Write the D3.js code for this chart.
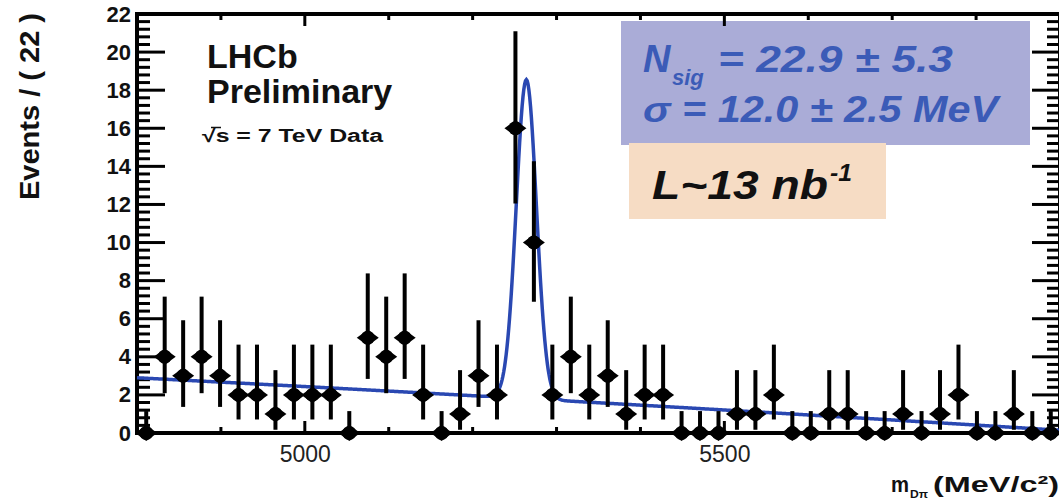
<!DOCTYPE html>
<html>
<head>
<meta charset="utf-8">
<script src="https://cdn.jsdelivr.net/npm/d3@7"></script>
<style>
  html, body { margin: 0; padding: 0; background: #fff; }
  svg { display: block; font-family: "Liberation Sans", Arial, sans-serif; }
</style>
</head>
<body>
<svg id="chart" width="1059" height="503"></svg>
<script>
// D -> pi invariant mass, 22 MeV bins from 4800 to 5900 MeV
const binCenters = [
  4811, 4833, 4855, 4877, 4899, 4921, 4943, 4965, 4987, 5009,
  5031, 5053, 5075, 5097, 5119, 5141, 5163, 5185, 5207, 5229,
  5251, 5273, 5295, 5317, 5339, 5361, 5383, 5405, 5427, 5449,
  5471, 5493, 5515, 5537, 5559, 5581, 5603, 5625, 5647, 5669,
  5691, 5713, 5735, 5757, 5779, 5801, 5823, 5845, 5867, 5889
];
const counts = [
  0, 4, 3, 4, 3, 2, 2, 1, 2, 2,
  2, 0, 5, 4, 5, 2, 0, 1, 3, 2,
  16, 10, 2, 4, 2, 3, 1, 2, 2, 0,
  0, 0, 1, 1, 2, 0, 0, 1, 1, 0,
  0, 1, 0, 1, 2, 0, 0, 1, 0, 0
];

// Poisson 68% intervals for the counts that occur
const intervalCounts = [0, 1, 2, 3, 4, 5, 10, 16];
const intervalLow    = [0, 0.17, 0.71, 1.37, 2.09, 2.84, 6.89, 12.05];
const intervalHigh   = [1.15, 3.30, 4.64, 5.92, 7.16, 8.38, 14.27, 21.1];

// Axis ticks
const yTickLabels = [0, 2, 4, 6, 8, 10, 12, 14, 16, 18, 20, 22];
const xTickLabels = [5000, 5500];
const xMinorTicks = [4800, 4900, 5000, 5100, 5200, 5300, 5400, 5500, 5600, 5700, 5800, 5900];

// Fit: Gaussian signal on a slowly falling background
const binWidth = 22;
const nSig = 22.9;
const sigmaSig = 12.0;
const meanSig = 5264;
const bkgConst = 2.9;
const bkgSlope = -0.002264;
const bkgCurv = -2.2e-7;

const svg = d3.select("#chart");
const x = d3.scaleLinear().domain([4800, 5900]).range([137, 1060]);
const y = d3.scaleLinear().domain([0, 22]).range([433, 14]);

// ---- annotation boxes (behind the frame) ----
svg.append("rect").attr("x", 621).attr("y", 21).attr("width", 409).attr("height", 124)
  .attr("fill", "#aaacd7");
svg.append("rect").attr("x", 629).attr("y", 143).attr("width", 257).attr("height", 76)
  .attr("fill", "#f6dcc4");

const blue = "#3b5bb7";
const boxText = svg.append("g").attr("fill", blue)
  .attr("font-weight", "bold").attr("font-style", "italic");
boxText.append("text").attr("x", 643).attr("y", 72).attr("font-size", 38).text("N");
boxText.append("text").attr("x", 672).attr("y", 85).attr("font-size", 22).text("sig");
boxText.append("text").attr("x", 718).attr("y", 72).attr("font-size", 36)
  .attr("textLength", 235).attr("lengthAdjust", "spacingAndGlyphs")
  .text("=  22.9 ± 5.3");
boxText.append("text").attr("x", 643).attr("y", 122).attr("font-size", 36)
  .attr("textLength", 355).attr("lengthAdjust", "spacingAndGlyphs")
  .text("σ = 12.0 ± 2.5 MeV");

const lumi = svg.append("g").attr("fill", "#111")
  .attr("font-weight", "bold").attr("font-style", "italic");
lumi.append("text").attr("x", 652).attr("y", 199).attr("font-size", 40)
  .attr("textLength", 176).attr("lengthAdjust", "spacingAndGlyphs")
  .text("L~13 nb");
lumi.append("text").attr("x", 830).attr("y", 181).attr("font-size", 23)
  .attr("textLength", 22).attr("lengthAdjust", "spacingAndGlyphs")
  .text("-1");

// ---- experiment label ----
const exp = svg.append("g").attr("fill", "#111").attr("font-weight", "bold");
exp.append("text").attr("x", 207).attr("y", 68).attr("font-size", 34).text("LHCb");
exp.append("text").attr("x", 207).attr("y", 103).attr("font-size", 34).text("Preliminary");
exp.append("text").attr("x", 202).attr("y", 142).attr("font-size", 18)
  .attr("textLength", 181).attr("lengthAdjust", "spacingAndGlyphs")
  .text("√s = 7 TeV Data");
svg.append("line").attr("x1", 211).attr("x2", 221).attr("y1", 127.5).attr("y2", 127.5)
  .attr("stroke", "#111").attr("stroke-width", 1.5);

// ---- frame and ticks ----
const axisColor = "#000";
svg.append("rect").attr("x", x(4800)).attr("y", y(22))
  .attr("width", x(5900) - x(4800)).attr("height", y(0) - y(22))
  .attr("fill", "none").attr("stroke", axisColor).attr("stroke-width", 4);

const yMinor = d3.range(0, 22.001, 0.4);
const ticks = svg.append("g").attr("stroke", axisColor).attr("stroke-width", 3);
yMinor.forEach(v => {
  const major = yTickLabels.some(t => Math.abs(t - v) < 1e-6);
  const len = major ? 28 : 13;
  ticks.append("line").attr("x1", x(4800)).attr("x2", x(4800) + len)
    .attr("y1", y(v)).attr("y2", y(v));
  ticks.append("line").attr("x1", x(5900)).attr("x2", x(5900) - len)
    .attr("y1", y(v)).attr("y2", y(v));
});
xMinorTicks.forEach(v => {
  const major = xTickLabels.includes(v);
  const len = major ? 12 : 6;
  ticks.append("line").attr("x1", x(v)).attr("x2", x(v))
    .attr("y1", y(0)).attr("y2", y(0) - len);
  ticks.append("line").attr("x1", x(v)).attr("x2", x(v))
    .attr("y1", y(22)).attr("y2", y(22) + len);
});

// Y tick labels via d3 axis (ticks themselves drawn above)
const yAxis = svg.append("g").attr("transform", `translate(${x(4800)},0)`)
  .call(d3.axisLeft(y).tickValues(yTickLabels).tickSize(0).tickPadding(6));
yAxis.select(".domain").remove();
yAxis.selectAll("text").attr("font-size", 22).attr("font-weight", "bold")
  .attr("font-family", "Liberation Sans, Arial, sans-serif").attr("fill", "#111");

const xAxis = svg.append("g").attr("transform", `translate(0,${y(0)})`)
  .call(d3.axisBottom(x).tickValues(xTickLabels).tickFormat(d3.format("d"))
    .tickSize(0).tickPadding(13));
xAxis.select(".domain").remove();
xAxis.selectAll("text").attr("font-size", 23)
  .attr("font-family", "Liberation Sans, Arial, sans-serif").attr("fill", "#222");

// ---- axis titles ----
svg.append("text")
  .attr("transform", "translate(39,200) rotate(-90)")
  .attr("font-size", 28).attr("font-weight", "bold").attr("fill", "#111")
  .attr("textLength", 187).attr("lengthAdjust", "spacingAndGlyphs")
  .text("Events / ( 22 )");

const xt = svg.append("g").attr("fill", "#111").attr("font-weight", "bold");
xt.append("text").attr("x", 891).attr("y", 492).attr("font-size", 22)
  .attr("textLength", 18).attr("lengthAdjust", "spacingAndGlyphs").text("m");
xt.append("text").attr("x", 910).attr("y", 498).attr("font-size", 11)
  .attr("textLength", 18).attr("lengthAdjust", "spacingAndGlyphs").text("Dπ");
xt.append("text").attr("x", 933).attr("y", 492).attr("font-size", 22)
  .attr("textLength", 126).attr("lengthAdjust", "spacingAndGlyphs").text("(MeV/c²)");

// ---- fit curve ----
const fitMass = d3.range(4800, 5900.5, 1);
const gaussNorm = nSig * binWidth / (sigmaSig * Math.sqrt(2 * Math.PI));
const fitValue = m => {
  const d = m - 4800;
  const bkg = bkgConst + bkgSlope * d + bkgCurv * d * d;
  const z = (m - meanSig) / sigmaSig;
  return bkg + gaussNorm * Math.exp(-0.5 * z * z);
};
svg.append("path")
  .datum(fitMass)
  .attr("fill", "none").attr("stroke", "#2a48b2").attr("stroke-width", 3.5)
  .attr("d", d3.line().x(m => x(m)).y(m => y(fitValue(m))));

// ---- data points with error bars ----
const points = binCenters.map((m, i) => {
  const k = intervalCounts.indexOf(counts[i]);
  return { m, n: counts[i], lo: intervalLow[k], hi: intervalHigh[k] };
});
const pts = svg.append("g");
pts.selectAll("line.err").data(points).join("line")
  .attr("class", "err")
  .attr("x1", d => x(d.m)).attr("x2", d => x(d.m))
  .attr("y1", d => y(d.lo)).attr("y2", d => y(d.hi))
  .attr("stroke", "#000").attr("stroke-width", 4);
const marker = pts.selectAll("g.mk").data(points).join("g")
  .attr("class", "mk")
  .attr("transform", d => `translate(${x(d.m)},${y(d.n)})`);
marker.append("path").attr("d", "M-11,0 L0,-8 L11,0 L0,8 Z").attr("fill", "#000");
marker.append("circle").attr("r", 7).attr("fill", "#000");
</script>
</body>
</html>
